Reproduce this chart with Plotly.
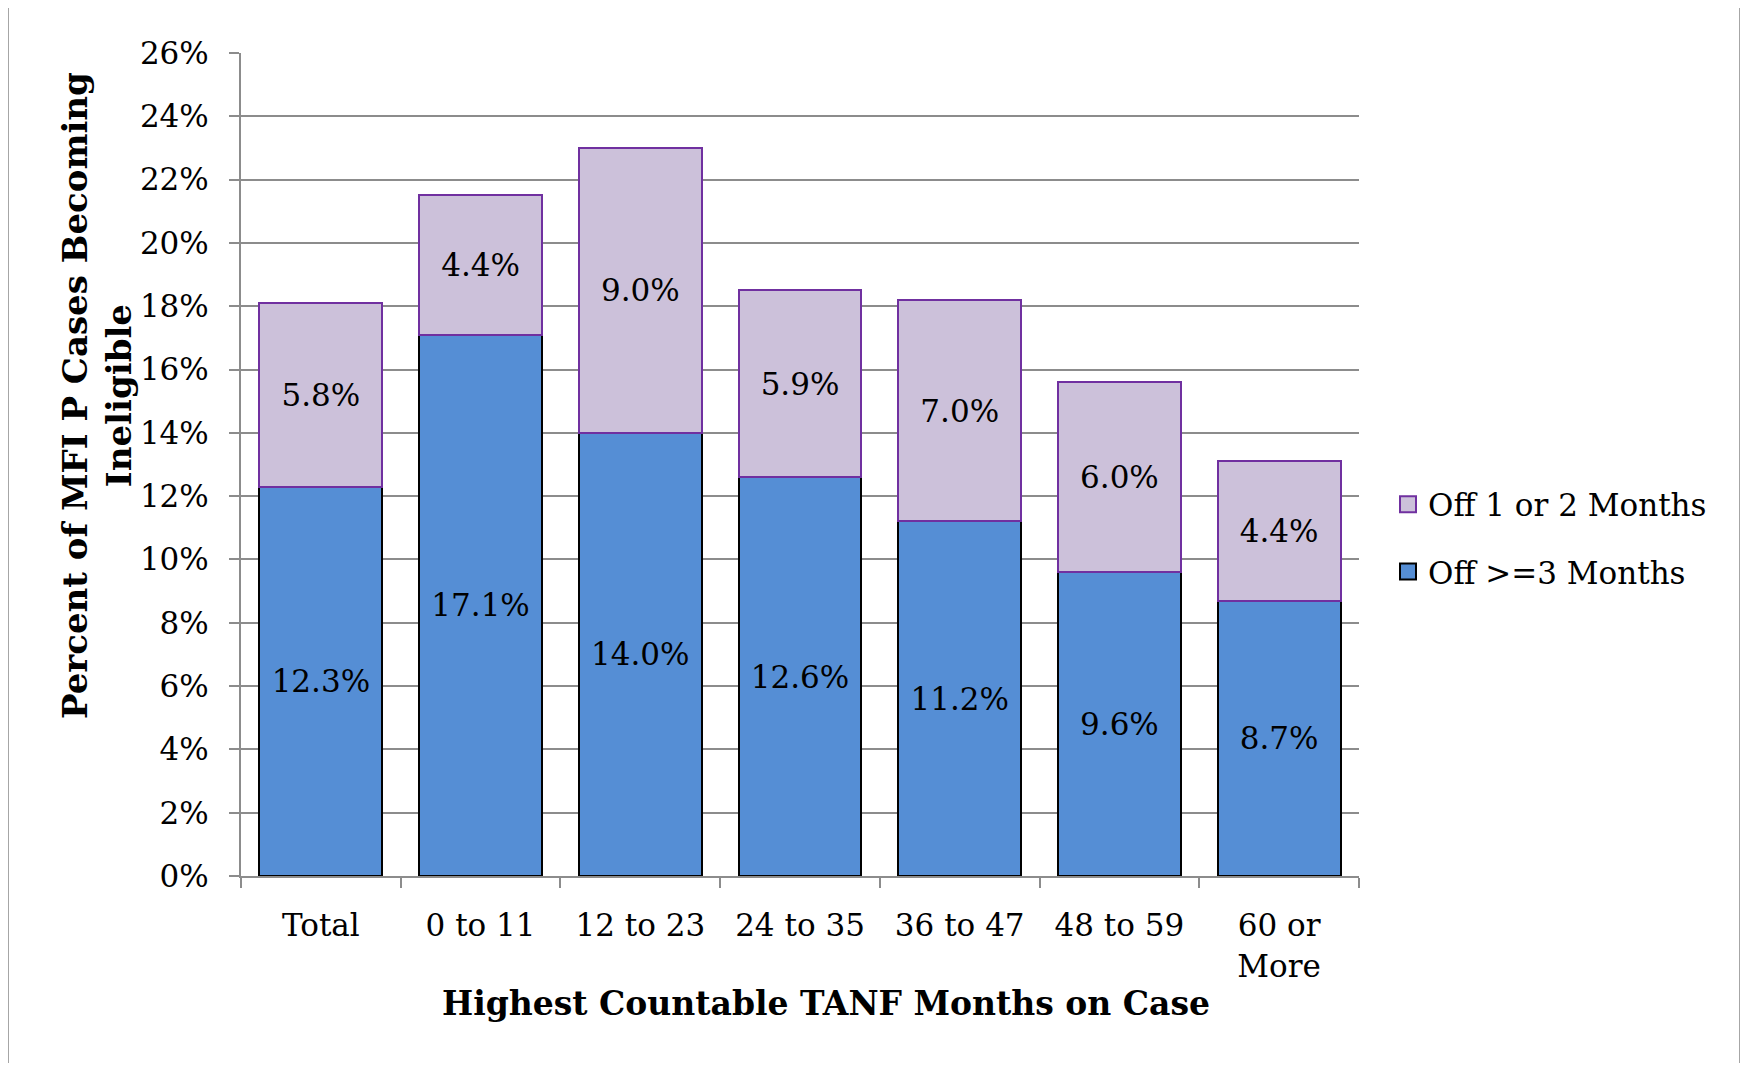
import plotly.graph_objects as go

categories = ["Total", "0 to 11", "12 to 23", "24 to 35", "36 to 47", "48 to 59", "60 or<br>More"]
off_3_plus = [12.3, 17.1, 14.0, 12.6, 11.2, 9.6, 8.7]
off_1_2 = [5.8, 4.4, 9.0, 5.9, 7.0, 6.0, 4.4]
y_ticks = list(range(0, 27, 2))

FONT = "DejaVu Serif"
OFF = 8  # page body margin
W, H = 1748 - 2 * OFF, 1071 - 2 * OFF
# plot area in page pixels: x 241..1359, y 53..876
L, T = 241 - OFF, 53 - OFF
R = W - (1359 - OFF)
B = H - (876 - OFF)
pw, ph = W - L - R, H - T - B


def px_x(x):
    return (x - OFF - L) / pw


def px_y(y):
    return (H - B - (y - OFF)) / ph


BLUE, BLUE_LINE = "#558ED5", "#000000"
LAV, LAV_LINE = "#CCC1DA", "#7030A0"

fig = go.Figure()
fig.add_trace(go.Bar(
    x=categories, y=off_3_plus, name="Off >=3 Months",
    marker=dict(color=BLUE, line=dict(color=BLUE_LINE, width=2)),
    text=[f"{v:.1f}%" for v in off_3_plus], textposition="inside",
    insidetextanchor="middle", textfont=dict(family=FONT, size=31, color="#000000"),
    showlegend=False,
))
fig.add_trace(go.Bar(
    x=categories, y=off_1_2, name="Off 1 or 2 Months",
    marker=dict(color=LAV, line=dict(color=LAV_LINE, width=2)),
    text=[f"{v:.1f}%" for v in off_1_2], textposition="inside",
    insidetextanchor="middle", textfont=dict(family=FONT, size=31, color="#000000"),
    showlegend=False,
))
# legend entries (larger square swatches)
for grp, (name, col, lc) in enumerate([("Off 1 or 2 Months", LAV, LAV_LINE),
                                       ("Off >=3 Months", BLUE, BLUE_LINE)]):
    fig.add_trace(go.Scatter(
        x=[None], y=[None], mode="markers", name=name, legendgroup=f"g{grp}",
        marker=dict(symbol="square", size=16, color=col, line=dict(color=lc, width=2)),
        showlegend=True, hoverinfo="skip",
    ))

fig.update_layout(
    width=W, height=H,
    margin=dict(l=L, r=R, t=T, b=B, autoexpand=False),
    barmode="stack", bargap=0.23,
    paper_bgcolor="white", plot_bgcolor="white",
    font=dict(family=FONT, size=31, color="#000000"),
    uniformtext=dict(mode="show", minsize=31),
    legend=dict(
        x=px_x(1388), y=px_y(538), xanchor="left", yanchor="middle",
        traceorder="grouped", tracegroupgap=24, itemsizing="trace",
        font=dict(family=FONT, size=31, color="#000000"),
        bgcolor="rgba(0,0,0,0)", itemwidth=30,
    ),
    xaxis=dict(
        showline=True, linecolor="#8C8C8C", linewidth=2,
        ticks="outside", tickson="boundaries", ticklen=10, tickwidth=2, tickcolor="#8C8C8C",
        ticklabelstandoff=21, showgrid=False,
        tickfont=dict(family=FONT, size=31, color="#000000"),
    ),
    yaxis=dict(
        range=[0, 26], tickvals=y_ticks, ticktext=[f"{v}%" for v in y_ticks],
        showline=True, linecolor="#8C8C8C", linewidth=2,
        ticks="outside", ticklen=10, tickwidth=2, tickcolor="#8C8C8C",
        showgrid=True, gridcolor="#8C8C8C", gridwidth=2,
        ticklabelstandoff=14, zeroline=False,
        tickfont=dict(family=FONT, size=31, color="#000000"),
    ),
    shapes=[dict(
        type="rect", xref="paper", yref="paper",
        x0=px_x(8), x1=px_x(1740), y0=px_y(1085), y1=px_y(6),
        line=dict(color="#A6A6A6", width=2), fillcolor="rgba(0,0,0,0)", layer="below",
    )],
    annotations=[
        dict(text="<b>Highest Countable TANF Months on Case</b>", xref="paper", yref="paper",
             x=px_x(826), y=px_y(1003), xanchor="center", yanchor="middle", showarrow=False,
             font=dict(family=FONT, size=33, color="#000000")),
        dict(text="<b>Percent of MFI P Cases Becoming<br>Ineligible</b>", xref="paper", yref="paper",
             x=px_x(97), y=px_y(396), xanchor="center", yanchor="middle", showarrow=False,
             textangle=-90,
             font=dict(family=FONT, size=34, color="#000000")),
    ],
)

fig.write_html("out.html")
